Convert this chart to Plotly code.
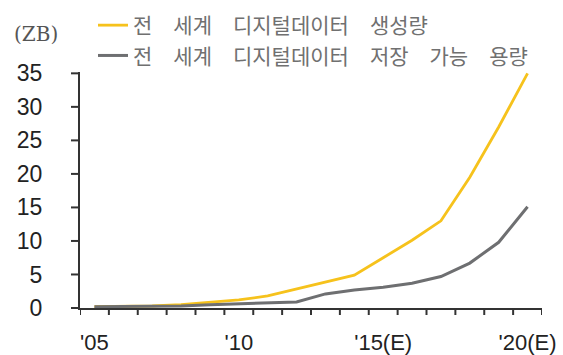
import plotly.graph_objects as go

years = [2005, 2006, 2007, 2008, 2009, 2010, 2011, 2012,
         2013, 2014, 2015, 2016, 2017, 2018, 2019, 2020]
label_years = [2005, 2010, 2015, 2020]
label_text = ["'05", "'10", "'15(E)", "'20(E)"]

created = [0.2, 0.2, 0.3, 0.5, 0.8, 1.2, 1.8, 2.8, 3.9, 4.9, 7.5, 10.1, 13.0, 19.5, 27.0, 35.0]
storage = [0.2, 0.2, 0.2, 0.3, 0.5, 0.6, 0.7, 0.9, 2.1, 2.7, 3.1, 3.7, 4.7, 6.7, 9.8, 15.1]

name_created = "전\u3000세계\u3000디지털데이터\u3000생성량"
name_storage = "전\u3000세계\u3000디지털데이터\u3000저장\u3000가능\u3000용량"

y_ticks = [0, 5, 10, 15, 20, 25, 30, 35]

# tick marks sit on the boundaries between years
boundaries = [y - 0.5 for y in years] + [years[-1] + 0.5]
x_range = [years[0] - 0.5, years[-1] + 0.5]
y_range = [0, 35.2]

fig = go.Figure()
fig.add_trace(go.Scatter(x=years, y=created, mode="lines", name=name_created,
                         line=dict(color="#F6C21C", width=2.8)))
fig.add_trace(go.Scatter(x=years, y=storage, mode="lines", name=name_storage,
                         line=dict(color="#6E6F71", width=3)))

PW, PH = 462, 236
AX = "#333333"

fig.update_layout(
    width=563, height=355,
    margin=dict(l=80, r=21, t=72, b=47, autoexpand=False),
    paper_bgcolor="white", plot_bgcolor="white",
    showlegend=True,
    legend=dict(x=(93 - 80) / PW, y=(308 - 5) / PH,
                xanchor="left", yanchor="top", bgcolor="rgba(0,0,0,0)",
                font=dict(family="Noto Sans CJK KR", size=21, color="#707070"),
                tracegroupgap=0, itemwidth=30),
    xaxis=dict(range=x_range, autorange=False,
               tickmode="array", tickvals=label_years, ticktext=label_text,
               tickangle=0, ticks="", ticklabelstandoff=14,
               showline=True, linecolor=AX, linewidth=2,
               showgrid=False, zeroline=False,
               tickfont=dict(family="Liberation Sans", size=22, color="#222")),
    yaxis=dict(range=y_range, autorange=False, tickmode="array", tickvals=y_ticks,
               ticks="", ticklabelstandoff=31,
               showline=True, linecolor=AX, linewidth=2,
               showgrid=False, zeroline=False,
               tickfont=dict(family="Liberation Sans", size=23, color="#222")),
)

# x tick marks drawn from the boundary list
for b in boundaries:
    fig.add_shape(type="line", xref="x", yref="paper", x0=b, x1=b,
                  ysizemode="pixel", yanchor=0, y0=0, y1=-7,
                  line=dict(color=AX, width=2), layer="above")
# y tick marks drawn from the tick list, placed by the axis range
for t in y_ticks:
    frac = (t - y_range[0]) / (y_range[1] - y_range[0])
    fig.add_shape(type="line", xref="paper", yref="paper", y0=frac, y1=frac,
                  xsizemode="pixel", xanchor=0, x0=0, x1=-9,
                  line=dict(color=AX, width=2), layer="above")

fig.add_annotation(text="(ZB)", xref="paper", yref="paper",
                   x=(12 - 80) / PW, xanchor="left",
                   y=(308 - 34) / PH, yanchor="middle", showarrow=False,
                   font=dict(family="DejaVu Serif", size=20, color="#555"))

fig.write_html("out.html")
